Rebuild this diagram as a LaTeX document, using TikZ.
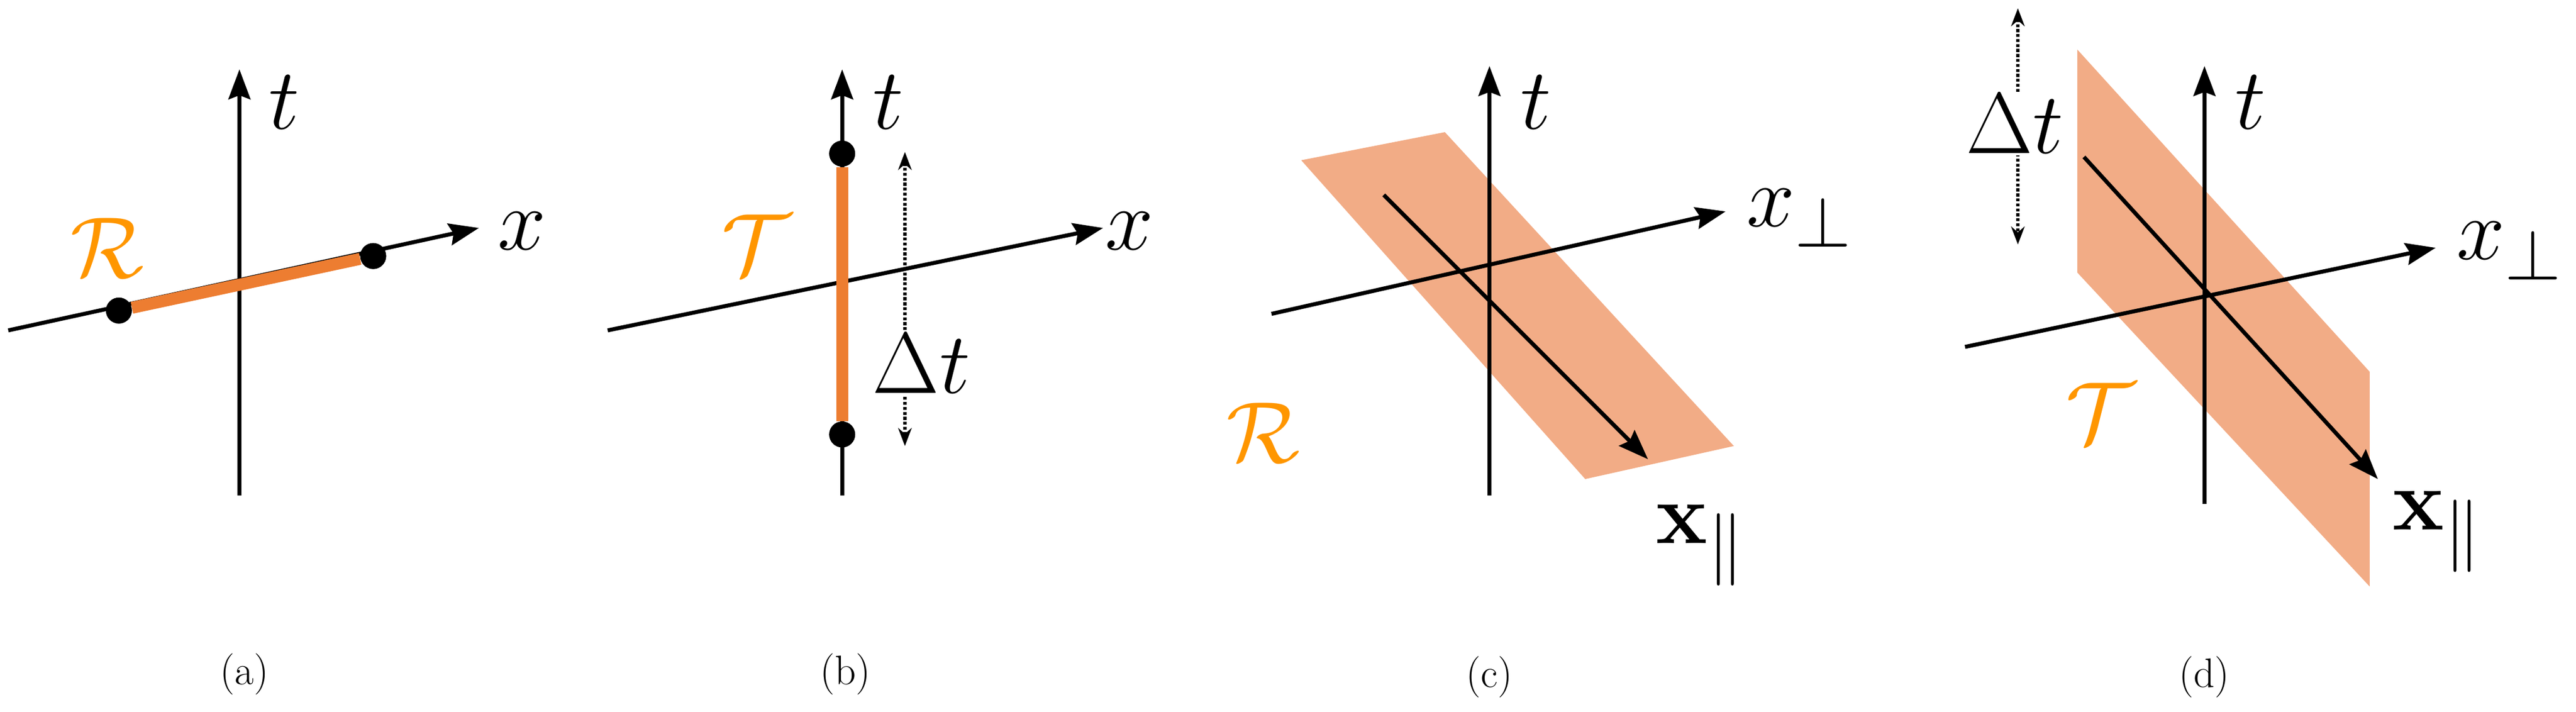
\documentclass[tikz,border=0pt]{standalone}
\usepackage{amsmath,amssymb}
\usetikzlibrary{arrows.meta}
\definecolor{segorange}{RGB}{237,125,49}
\definecolor{bandorange}{RGB}{242,172,134}
\definecolor{lblorange}{RGB}{255,150,0}
\newcommand{\bigsym}[1]{\scalebox{1.75}{\fontsize{24.88}{30}\selectfont #1}}
\tikzset{
  axis/.style={-{Stealth[length=15pt,width=11pt,inset=2pt]}, line width=2pt},
  seg/.style={segorange, line width=6pt},
  band/.style={fill=bandorange, draw=none},
  dot/.style={circle, fill=black, inner sep=0pt, minimum size=13pt},
  span/.style={{Stealth[length=9pt]}-{Stealth[length=9pt]}, densely dotted, line width=1.5pt},
  biglbl/.style={inner sep=2pt},
  orlbl/.style={lblorange, inner sep=2pt},
  caption/.style={font=\fontsize{20.74}{26}\selectfont},
}
\begin{document}
\begin{tikzpicture}[x=0.02914cm, y=-0.02914cm]
  \useasboundingbox (0,0) rectangle (1560,430.7);
  % (a)
  \coordinate (a0) at (145,300); \coordinate (a1) at (145,42);
  \coordinate (a2) at (5,200);   \coordinate (a3) at (290,138);
  \draw[axis] (a0) -- (a1);
  \draw[axis] (a2) -- (a3);
  \node[dot] (ad1) at (72,188) {};
  \node[dot] (ad2) at (226,155) {};
  \draw[seg] (ad1) -- (ad2);
  \node[dot] at (ad1) {}; \node[dot] at (ad2) {};
  \node[biglbl] (at) at (172,62) {\bigsym{$t$}};
  \node[biglbl] (ax) at (316,140) {\bigsym{$x$}};
  \node[orlbl] (aR) at (65,150) {\bigsym{$\mathcal{R}$}};
  \node[caption] (acap) at (148,408) {(a)};
  % (b)
  \coordinate (b0) at (510,300); \coordinate (b1) at (510,42);
  \coordinate (b2) at (368,200); \coordinate (b3) at (668,138);
  \draw[axis] (b0) -- (b1);
  \draw[axis] (b2) -- (b3);
  \node[dot] (bd1) at (510,93) {};
  \node[dot] (bd2) at (510,263) {};
  \draw[seg] (bd1) -- (bd2);
  \node[dot] at (bd1) {}; \node[dot] at (bd2) {};
  \coordinate (bs0) at (548,92); \coordinate (bs1) at (548,270);
  \draw[span] (bs0) -- (bs1);
  \node[biglbl] (bt) at (538,62) {\bigsym{$t$}};
  \node[biglbl] (bx) at (684,140) {\bigsym{$x$}};
  \node[orlbl] (bT) at (458,148) {\bigsym{$\mathcal{T}$}};
  \node[biglbl, fill=white, inner sep=1pt] (bdt) at (558,220) {\bigsym{$\Delta t$}};
  \node[caption] (bcap) at (512,408) {(b)};
  % (c)
  \fill[band] (788,97) -- (875,80) -- (1050,270) -- (960,290) -- cycle;
  \coordinate (c0) at (902,300); \coordinate (c1) at (902,40);
  \coordinate (c2) at (770,190); \coordinate (c3) at (1045,128);
  \coordinate (c4) at (838,118); \coordinate (c5) at (998,278);
  \draw[axis] (c0) -- (c1);
  \draw[axis] (c2) -- (c3);
  \draw[axis] (c4) -- (c5);
  \node[biglbl] (ct) at (930,62) {\bigsym{$t$}};
  \node[biglbl] (cx) at (1090,132) {\bigsym{$x_\perp$}};
  \node[biglbl] (cpar) at (1030,330) {\bigsym{$\mathbf{x}_\parallel$}};
  \node[orlbl] (cR) at (765,262) {\bigsym{$\mathcal{R}$}};
  \node[caption] (ccap) at (902,410) {(c)};
  % (d)
  \fill[band] (1258,30) -- (1258,165) -- (1435,355) -- (1435,225) -- cycle;
  \coordinate (d0) at (1335,305); \coordinate (d1) at (1335,40);
  \coordinate (d2) at (1190,210); \coordinate (d3) at (1475,150);
  \coordinate (d4) at (1262,95);  \coordinate (d5) at (1440,290);
  \draw[axis] (d0) -- (d1);
  \draw[axis] (d2) -- (d3);
  \draw[axis] (d4) -- (d5);
  \coordinate (ds0) at (1222,5); \coordinate (ds1) at (1222,148);
  \draw[span] (ds0) -- (ds1);
  \node[biglbl] (dt) at (1363,62) {\bigsym{$t$}};
  \node[biglbl] (dx) at (1520,152) {\bigsym{$x_\perp$}};
  \node[biglbl] (dpar) at (1476,322) {\bigsym{$\mathbf{x}_\parallel$}};
  \node[orlbl] (dT) at (1272,250) {\bigsym{$\mathcal{T}$}};
  \node[biglbl, fill=white, inner sep=1pt] (ddt) at (1220,75) {\bigsym{$\Delta t$}};
  \node[caption] (dcap) at (1335,410) {(d)};
\end{tikzpicture}
\end{document}
